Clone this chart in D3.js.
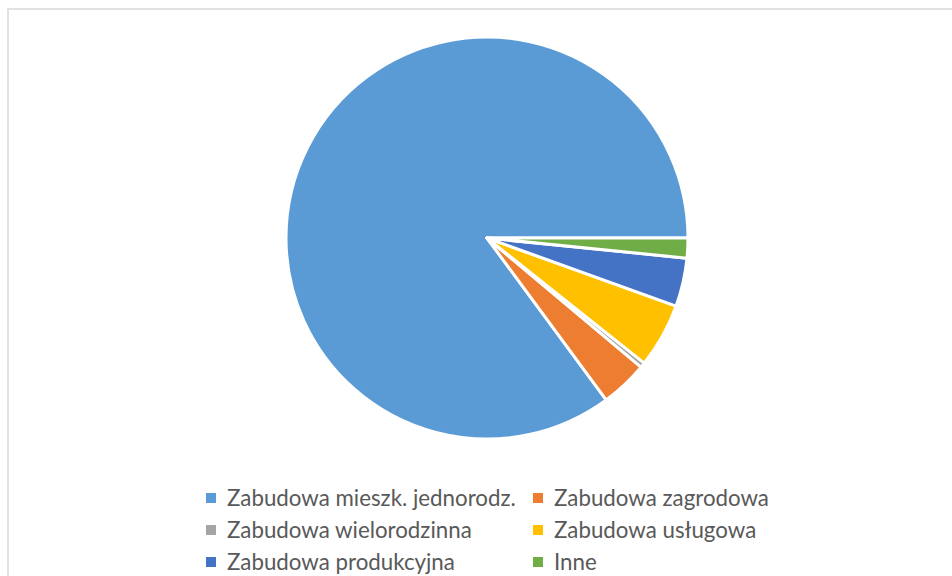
<!DOCTYPE html>
<html><head><meta charset="utf-8">
<script src="https://cdn.jsdelivr.net/npm/d3@7"></script>
<style>body{margin:0;background:#fff}svg{display:block}</style>
</head><body>
<svg id="c" width="952" height="576"></svg>
<script>
const categories = ["Zabudowa mieszk. jednorodz.","Zabudowa zagrodowa","Zabudowa wielorodzinna","Zabudowa usługowa","Zabudowa produkcyjna","Inne"];
const values = [85.1, 3.8, 0.4, 5.2, 3.9, 1.6];
const colors = ["#5B9BD5","#ED7D31","#A5A5A5","#FFC000","#4472C4","#70AD47"];

const svg = d3.select("#c");
svg.append("rect").attr("x",8).attr("y",9).attr("width",960).attr("height",600)
  .attr("fill","none").attr("stroke","#d9d9d9").attr("stroke-width",1.5);

const cx = 487, cy = 238, r = 201;
const data = categories.map((c,i)=>({c, v: values[i], col: colors[i]}));
const pie = d3.pie().sort(null).value(d=>d.v)
  .startAngle(Math.PI/2).endAngle(Math.PI/2 - 2*Math.PI);
const arc = d3.arc().innerRadius(0).outerRadius(r);
const color = d3.scaleOrdinal().domain(categories).range(colors);

svg.append("g").attr("transform",`translate(${cx},${cy})`)
  .selectAll("path").data(pie(data)).join("path")
  .attr("d",arc).attr("fill",d=>color(d.data.c))
  .attr("stroke","#fff").attr("stroke-width",3).attr("stroke-linejoin","round");

// legend
const colX = [206, 533], rowY = [498, 530, 562];
const lg = svg.append("g").attr("font-family","Lato, 'Open Sans', sans-serif").attr("font-size",22.3).attr("fill","#595959");
categories.forEach((c,i)=>{
  const x = colX[i%2], y = rowY[Math.floor(i/2)];
  lg.append("rect").attr("x",x).attr("y",y-5).attr("width",10).attr("height",10).attr("fill",color(c));
  lg.append("text").attr("x",x+21).attr("y",y).attr("dy","0.35em").text(c);
});
</script>
</body></html>
